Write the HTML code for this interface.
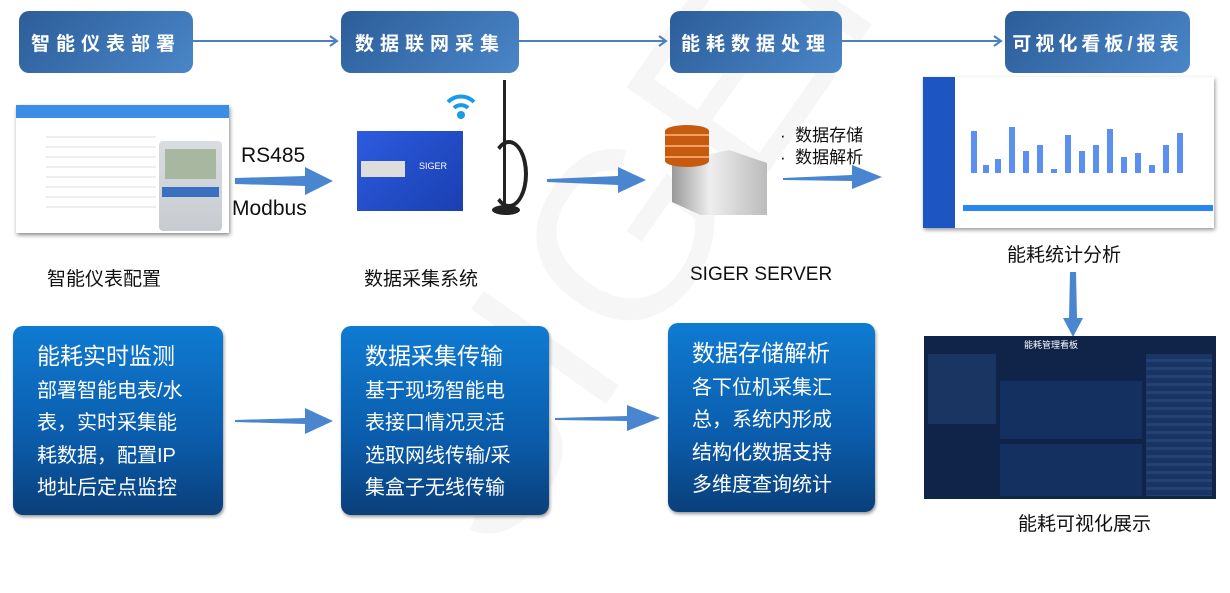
<!DOCTYPE html>
<html><head><meta charset="utf-8"><style>
body{margin:0;width:1230px;height:546px;background:#fff;position:relative;overflow:hidden;font-family:"Liberation Sans","Noto Sans CJK SC",sans-serif}
.a{position:absolute}
.hd{position:absolute;top:11px;height:62px;border-radius:10px;background:linear-gradient(135deg,#2c5d99,#4a86c8);color:#fff;font-weight:bold;font-size:19px;letter-spacing:6px;display:flex;align-items:center;justify-content:center}
.bx{position:absolute;border-radius:10px;background:linear-gradient(#0f7bd2,#0b5cab 60%,#0a3f7a);color:#fff;font-size:20px;line-height:32.5px;padding:14px 0 0 24px;box-sizing:border-box;box-shadow:1px 2px 3px #999}
.bx b{font-size:23px;font-weight:normal;display:block;margin-bottom:2px}
.lbl{position:absolute;font-size:19px;color:#111;white-space:nowrap}
</style></head><body>
<div class="a" style="font-size:240px;color:rgba(0,0,0,0.035);transform:rotate(-55deg);transform-origin:center;font-family:'Liberation Sans';letter-spacing:10px;width:600px;top:130px;left:300px">SIGER</div>

<svg class="a" style="left:0;top:0" width="1230" height="546">
<g stroke="#4a7fc0" stroke-width="2" fill="none">
<line x1="193" y1="41" x2="336" y2="41"/><polyline points="330,36 337,41 330,46"/>
<line x1="519" y1="41" x2="665" y2="41"/><polyline points="659,36 666,41 659,46"/>
<line x1="842" y1="41" x2="1000" y2="41"/><polyline points="994,36 1001,41 994,46"/>
</g>
<g fill="#4a86d0">
<polygon points="235,178 305,176 305,167 333,181 305,195 305,186 235,184"/>
<polygon points="547,179 618,176 618,167 646,180 618,193 618,185 547,182"/>
<polygon points="783,178 852,175 852,165 882,177 852,189 852,181 783,180"/>
<polygon points="235,420 305,418 305,408 333,421 305,434 305,424 235,422"/>
<polygon points="555,418 627,416 627,405 660,418 627,431 627,421 555,420"/>
<polygon points="1070,272 1076,272 1077,318 1083,318 1073,337 1063,318 1069,318"/>
</g>
</svg>

<div class="hd" style="left:19px;width:174px">智能仪表部署</div>
<div class="hd" style="left:341px;width:178px">数据联网采集</div>
<div class="hd" style="left:670px;width:172px">能耗数据处理</div>
<div class="hd" style="left:1005px;width:185px;letter-spacing:4px">可视化看板/报表</div>

<div class="a" style="left:16px;top:105px;width:213px;height:128px;background:#fff;box-shadow:1px 2px 4px #888">
<div style="height:13px;background:#3a8ee6"></div>
<div style="margin:10px 0 0 30px;width:110px;height:80px;background:repeating-linear-gradient(#fff 0 8px,#eee 8px 10px)"></div>
</div>
<div class="a" style="left:159px;top:141px;width:63px;height:90px;background:linear-gradient(#d8dde2,#c8ccd0);border-radius:4px"><div style="margin:8px 6px;height:30px;background:#a8b8a0"></div><div style="margin:0 3px;height:10px;background:#3a70c0"></div></div>
<div class="lbl" style="left:241px;top:144px;font-size:21px">RS485</div>
<div class="lbl" style="left:232px;top:197px;font-size:21px">Modbus</div>

<div class="a" style="left:357px;top:131px;width:106px;height:80px;background:linear-gradient(135deg,#2c5ce0,#1a3fb0)"><div style="position:absolute;left:4px;top:30px;width:44px;height:16px;background:#ddd"></div><div style="position:absolute;left:62px;top:30px;color:#fff;font-size:9px">SIGER</div></div>
<div class="a" style="left:503px;top:80px;width:3px;height:130px;background:#222"></div>
<div class="a" style="left:490px;top:140px;width:30px;height:60px;border:4px solid #222;border-radius:50%;border-left-color:transparent"></div>
<div class="a" style="left:492px;top:205px;width:28px;height:10px;background:#222;border-radius:50%"></div>
<svg class="a" style="left:445px;top:92px" width="32" height="30"><path d="M3 10 A18 18 0 0 1 29 10" stroke="#1a9ae8" stroke-width="4" fill="none"/><path d="M9 16 A10 10 0 0 1 23 16" stroke="#1a9ae8" stroke-width="4" fill="none"/><circle cx="16" cy="23" r="4" fill="#1a9ae8"/></svg>

<div class="a" style="left:672px;top:150px;width:95px;height:65px;background:linear-gradient(90deg,#999,#eee 40%,#bbb);clip-path:polygon(0 20%,60% 0,100% 20%,100% 100%,30% 100%,0 80%)"></div>
<div class="a" style="left:665px;top:125px;width:44px;height:42px;background:repeating-linear-gradient(#c85a10 0 9px,#f0a060 9px 11px);border-radius:22px/6px"></div>
<div class="lbl" style="left:780px;top:121px;font-size:17px">·&nbsp; 数据存储</div>
<div class="lbl" style="left:780px;top:143px;font-size:17px">·&nbsp; 数据解析</div>

<div class="a" style="left:923px;top:77px;width:291px;height:151px;background:#fff;box-shadow:1px 2px 4px #999">
<div style="position:absolute;left:0;top:0;width:32px;height:151px;background:#1d56c2"></div>
<svg style="position:absolute;left:40px;top:40px" width="250" height="110"><g fill="#5b8ff0"><rect x="8" y="14" width="6" height="42"/><rect x="20" y="48" width="6" height="8"/><rect x="32" y="42" width="6" height="14"/><rect x="46" y="10" width="6" height="46"/><rect x="60" y="34" width="6" height="22"/><rect x="74" y="28" width="6" height="28"/><rect x="88" y="52" width="6" height="4"/><rect x="102" y="18" width="6" height="38"/><rect x="116" y="34" width="6" height="22"/><rect x="130" y="28" width="6" height="28"/><rect x="144" y="12" width="6" height="44"/><rect x="158" y="40" width="6" height="16"/><rect x="172" y="36" width="6" height="20"/><rect x="186" y="48" width="6" height="8"/><rect x="200" y="28" width="6" height="28"/><rect x="214" y="16" width="6" height="40"/></g><rect x="0" y="88" width="250" height="6" fill="#2a86f0"/></svg>
</div>

<div class="a" style="left:924px;top:336px;width:292px;height:163px;background:#10244a">
<div style="position:absolute;left:4px;top:18px;width:68px;height:70px;background:#1b3563"></div>
<div style="position:absolute;left:76px;top:45px;width:142px;height:58px;background:#143060"></div>
<div style="position:absolute;left:76px;top:108px;width:142px;height:52px;background:#143060"></div>
<div style="position:absolute;left:222px;top:18px;width:66px;height:142px;background:repeating-linear-gradient(#1b3563 0 5px,#23427a 5px 8px)"></div>
<div style="position:absolute;left:100px;top:2px;color:#fff;font-size:9px">能耗管理看板</div>
</div>

<div class="lbl" style="left:47px;top:264px">智能仪表配置</div>
<div class="lbl" style="left:364px;top:264px">数据采集系统</div>
<div class="lbl" style="left:690px;top:264px">SIGER SERVER</div>
<div class="lbl" style="left:1007px;top:240px">能耗统计分析</div>
<div class="lbl" style="left:1018px;top:509px">能耗可视化展示</div>

<div class="bx" style="left:13px;top:326px;width:210px;height:189px"><b>能耗实时监测</b>部署智能电表/水<br>表，实时采集能<br>耗数据，配置IP<br>地址后定点监控</div>
<div class="bx" style="left:341px;top:326px;width:208px;height:189px"><b>数据采集传输</b>基于现场智能电<br>表接口情况灵活<br>选取网线传输/采<br>集盒子无线传输</div>
<div class="bx" style="left:668px;top:323px;width:207px;height:189px"><b>数据存储解析</b>各下位机采集汇<br>总，系统内形成<br>结构化数据支持<br>多维度查询统计</div>
</body></html>
